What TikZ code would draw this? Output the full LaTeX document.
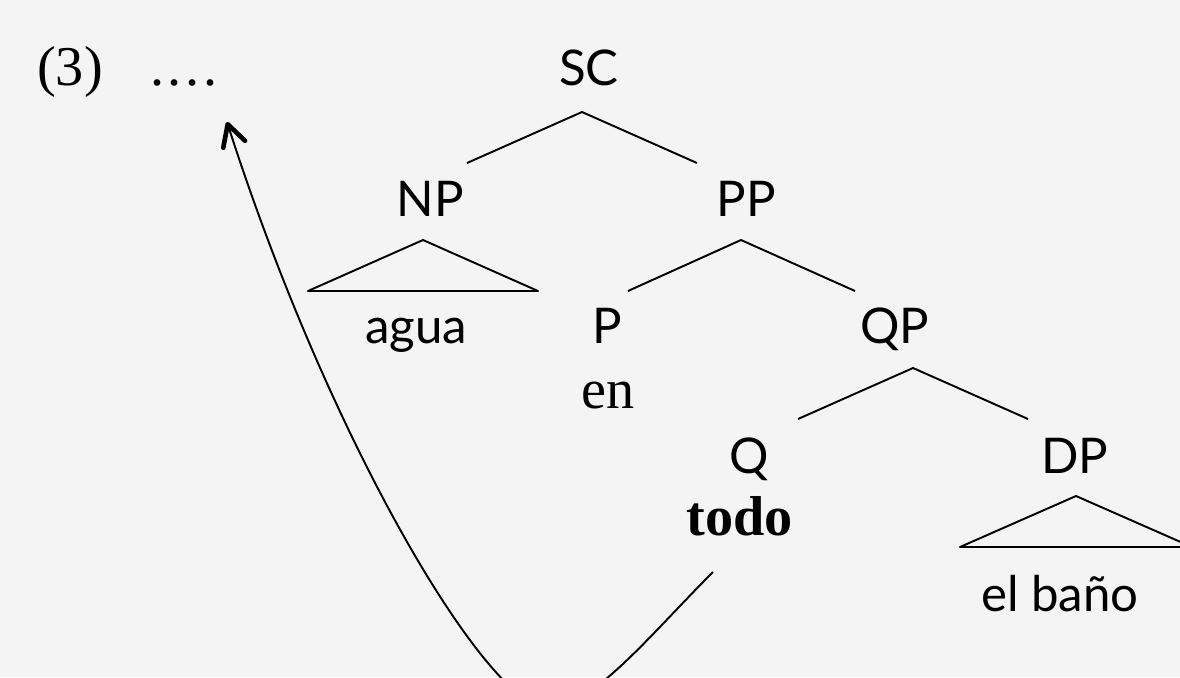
\documentclass[tikz,border=0pt]{standalone}
\usepackage{fontspec}
\setmainfont{Liberation Serif}
\newfontfamily\catfont{Lato}
\usetikzlibrary{arrows.meta}
\definecolor{paper}{HTML}{F4F4F4}
\definecolor{ink}{HTML}{000000}

\begin{document}
\begin{tikzpicture}[x=0.02cm,y=-0.02cm]
\tikzset{cat/.style={font=\catfont\fontsize{28}{32}\selectfont,anchor=base,inner sep=0pt,ink},
  word/.style={font=\fontsize{32}{36}\selectfont,anchor=base,inner sep=0pt,ink},
  branch/.style={ink,line width=1.1pt,line join=round},
  move/.style={ink,line width=1.1pt,-{Straight Barb[length=12pt,width=13pt,line width=0pt 2.4,round]}}}

\fill[paper] (0,0) rectangle (1180,677);
\useasboundingbox (0,0) rectangle (1180,677);
\clip (0,0) rectangle (1180,677);

% example number and landing site
\node[word] (num) at (70,85) {(3)};
\node[word] (dots) at (184,85) {.\kern2.2pt.\kern2.2pt.\kern2.2pt.};

% categories
\node[cat] (sc) at (589,85) {SC};
\node[cat] (np) at (430,216) {NP};
\node[cat] (pp) at (746,216) {PP};
\node[cat] (agua) at (416,343) {agua};
\node[cat] (p) at (607,343) {P};
\node[word] (en) at (608,408) {en};
\node[cat] (qp) at (895,343) {QP};
\node[cat] (q) at (749,473) {Q};
\node[word,font=\bfseries\fontsize{32}{36}\selectfont] (todo) at (740,535) {todo};
\node[cat] (dp) at (1075,473) {DP};
\node[cat] (elbano) at (1060,611) {el baño};

% branch points
\coordinate (sc-a) at (582,112);
\coordinate (sc-l) at (467,163);
\coordinate (sc-r) at (697,163);
\coordinate (pp-a) at (741,240);
\coordinate (pp-l) at (628,291);
\coordinate (pp-r) at (855,291);
\coordinate (qp-a) at (913,368);
\coordinate (qp-l) at (798,419);
\coordinate (qp-r) at (1028,419);
\coordinate (np-a) at (423,240);
\coordinate (np-l) at (308,291);
\coordinate (np-r) at (538,291);
\coordinate (dp-a) at (1076,496);
\coordinate (dp-l) at (960,547);
\coordinate (dp-r) at (1192,547);

\draw[branch] (sc-l)--(sc-a)--(sc-r);
\draw[branch] (pp-l)--(pp-a)--(pp-r);
\draw[branch] (qp-l)--(qp-a)--(qp-r);
\draw[branch] (np-l)--(np-a)--(np-r)--cycle;
\draw[branch] (dp-l)--(dp-a)--(dp-r)--cycle;

% movement of todo
\coordinate (q-tail) at (713,572);
\coordinate (q-bend) at (547,708);
\coordinate (q-land) at (227,122);
\draw[move] (q-tail) .. controls (648,637) and (592,708) .. (q-bend)
  .. controls (490,708) and (333,452) .. (q-land);
\end{tikzpicture}
\end{document}
